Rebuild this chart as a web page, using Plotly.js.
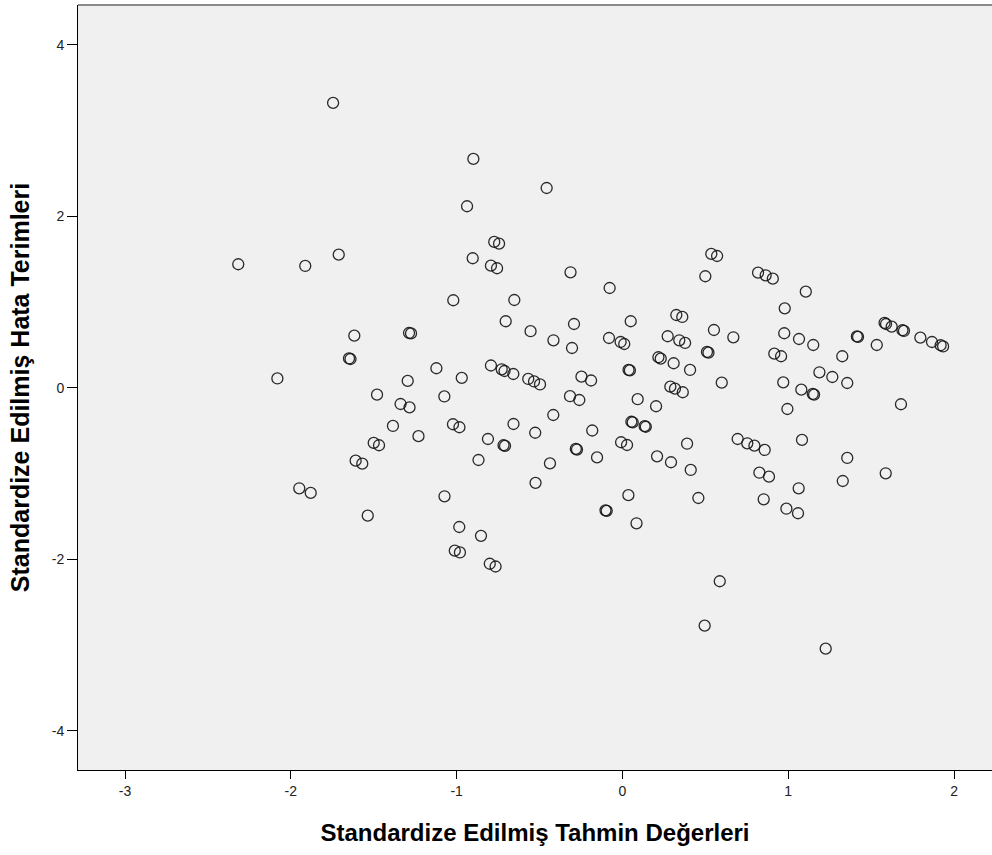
<!DOCTYPE html>
<html>
<head>
<meta charset="utf-8">
<script src="https://cdn.plot.ly/plotly-3.0.1.min.js"></script>
<style>
  html, body { margin: 0; padding: 0; background: #ffffff; }
  #chart { width: 992px; height: 855px; }
</style>
</head>
<body>
<div id="chart"></div>
<script>
// Standardized predicted values (x) and standardized residuals (y)
const predicted = [
  -1.745, -0.899, -0.457, -0.937, -0.773, -0.744, -2.317, -1.913, -1.711, -0.903,
  -0.793, -0.756, -1.020, -0.652, -0.704, -0.554, -1.617, -1.287, -1.275, -1.649,
  -1.640, -1.122, -0.793, -0.728, -0.711, -0.658, -2.081, -1.295, -0.969, -0.568,
  -0.533, -0.497, -1.480, -1.338, -1.284, -1.074, -1.384, -1.230, -1.022, -0.983,
  -0.657, -0.526, -0.811, -0.717, -0.708, -1.500, -1.468, -1.609, -1.569, -0.868,
  -0.437, -0.524, -1.949, -1.880, -1.073, -1.536, -0.984, -0.853, -1.011, -0.980,
  -0.800, -0.765, -0.417,
  0.536, 0.571, -0.313, -0.077, 0.500, 0.818, 0.864, 0.907, 1.106, 0.979,
  0.325, 0.361, -0.292, 0.050, 0.552, 0.669, -0.416, -0.304, -0.081, -0.011,
  0.011, 0.273, 0.343, 0.378, 0.976, 1.065, 1.151, 1.581, 1.590, 1.624,
  1.689, 1.698, 1.414, 1.421, 1.534, 1.797, 1.867, 1.919, 1.934, 1.326,
  0.916, 0.957, 0.510, 0.519, 0.217, 0.231, 0.309, 0.037, 0.045, 0.408,
  -0.247, -0.189, 1.188, 1.266, 1.356, 0.970, 0.599, 1.079, 1.148, 1.156,
  0.289, 0.317, 0.364, -0.316, -0.260, 0.092, 0.203, 0.995, 1.680, -0.182,
  0.054, 0.062, 0.134, 0.141, -0.281, -0.274, -0.153, -0.008, 0.028, 0.209,
  0.293, 0.390, 0.412, 0.695, 0.753, 0.796, 0.858, 1.083, 1.356, 1.588,
  0.826, 0.884, 1.063, 1.329, 0.852, 0.989, 1.059, 0.036, 0.458, -0.102,
  -0.095, 0.085, 0.587, 0.496, 1.226
];
const residuals = [
  3.324, 2.671, 2.332, 2.119, 1.703, 1.683, 1.443, 1.423, 1.555, 1.513,
  1.426, 1.396, 1.023, 1.026, 0.778, 0.662, 0.610, 0.641, 0.636, 0.344,
  0.338, 0.230, 0.262, 0.218, 0.198, 0.163, 0.111, 0.082, 0.117, 0.105,
  0.076, 0.041, -0.078, -0.187, -0.227, -0.099, -0.443, -0.562, -0.423, -0.458,
  -0.420, -0.522, -0.595, -0.668, -0.676, -0.641, -0.668, -0.848, -0.883, -0.840,
  -0.880, -1.106, -1.170, -1.224, -1.263, -1.489, -1.621, -1.724, -1.897, -1.918,
  -2.050, -2.082, -0.315,
  1.563, 1.539, 1.349, 1.166, 1.303, 1.345, 1.314, 1.275, 1.123, 0.929,
  0.851, 0.828, 0.746, 0.778, 0.676, 0.591, 0.556, 0.466, 0.583, 0.536,
  0.513, 0.603, 0.556, 0.525, 0.638, 0.571, 0.501, 0.758, 0.746, 0.715,
  0.673, 0.665, 0.601, 0.595, 0.501, 0.587, 0.536, 0.498, 0.484, 0.370,
  0.400, 0.370, 0.420, 0.412, 0.358, 0.342, 0.288, 0.210, 0.205, 0.210,
  0.132, 0.087, 0.183, 0.128, 0.058, 0.066, 0.062, -0.020, -0.070, -0.077,
  0.015, -0.008, -0.050, -0.096, -0.140, -0.131, -0.213, -0.245, -0.190, -0.496,
  -0.394, -0.402, -0.445, -0.452, -0.711, -0.718, -0.810, -0.633, -0.665, -0.797,
  -0.866, -0.650, -0.956, -0.595, -0.645, -0.673, -0.723, -0.606, -0.816, -0.995,
  -0.988, -1.034, -1.170, -1.085, -1.298, -1.408, -1.461, -1.250, -1.283, -1.427,
  -1.434, -1.578, -2.254, -2.772, -3.040
];
const xTicks = [-3, -2, -1, 0, 1, 2];
const yTicks = [-4, -2, 0, 2, 4];
const xTitle = "Standardize Edilmiş Tahmin Değerleri";
const yTitle = "Standardize Edilmiş Hata Terimleri";

const trace = {
  type: "scatter",
  mode: "markers",
  x: predicted,
  y: residuals,
  hoverinfo: "x+y",
  marker: {
    symbol: "circle-open",
    size: 11,
    color: "rgba(20,20,20,0.9)",
    line: { width: 1.3, color: "rgba(20,20,20,0.9)" }
  },
  showlegend: false
};

const fontFam = "Liberation Sans, Arial, Helvetica, sans-serif";

const layout = {
  width: 992,
  height: 855,
  margin: { l: 78, r: 0, t: 5, b: 85, pad: 0 },
  paper_bgcolor: "#ffffff",
  plot_bgcolor: "#f0f0f0",
  font: { family: fontFam, size: 14, color: "#222222" },
  xaxis: {
    range: [-3.2835, 2.229],
    tickvals: xTicks,
    ticktext: xTicks.map(String),
    ticks: "outside",
    ticklen: 8,
    tickwidth: 1,
    tickcolor: "#000000",
    showline: true,
    linecolor: "#000000",
    linewidth: 1,
    showgrid: false,
    zeroline: false,
    tickfont: { family: fontFam, size: 14, color: "#222222" },
    title: {
      text: xTitle,
      font: { family: fontFam, size: 24, color: "#000000", weight: "bold" },
      standoff: 26
    },
    automargin: false,
    fixedrange: true
  },
  yaxis: {
    range: [-4.455, 4.466],
    tickvals: yTicks,
    ticktext: yTicks.map(String),
    ticks: "outside",
    ticklen: 10,
    tickwidth: 1,
    tickcolor: "#000000",
    showline: true,
    linecolor: "#000000",
    linewidth: 1,
    showgrid: false,
    zeroline: false,
    tickfont: { family: fontFam, size: 14, color: "#222222" },
    title: {
      text: yTitle,
      font: { family: fontFam, size: 25, color: "#000000", weight: "bold" },
      standoff: 14
    },
    automargin: false,
    fixedrange: true
  },
  shapes: [
    {
      type: "line", xref: "paper", yref: "paper",
      x0: 0, x1: 1, y0: 1, y1: 1,
      line: { color: "#8a8a8a", width: 2 }
    }
  ]
};

Plotly.newPlot("chart", [trace], layout, { displayModeBar: false, staticPlot: false });
</script>
</body>
</html>
